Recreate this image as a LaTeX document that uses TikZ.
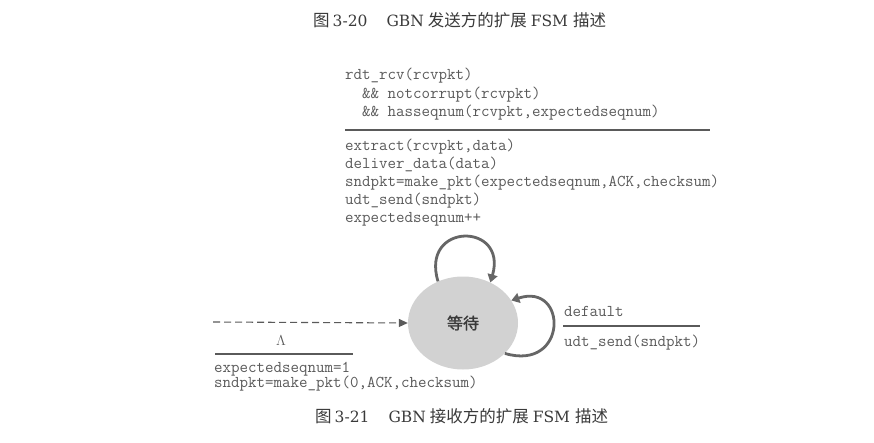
\documentclass[tikz,border=0pt]{standalone}
\usepackage{fontspec}
\setmainfont{Liberation Serif}
\newfontfamily\titleserif{DejaVu Serif}
\newfontfamily\cjk{Noto Sans CJK SC}
\newfontfamily\cjkbold{Noto Sans CJK SC}[FakeBold=1.5]
\usetikzlibrary{shapes.geometric,arrows.meta}
\definecolor{txtgray}{HTML}{5A5A5A}
\definecolor{titlegray}{HTML}{3A3A3A}
\definecolor{statefill}{HTML}{D2D2D2}
\definecolor{loopgray}{HTML}{666666}
\tikzset{
  mono/.style={anchor=base west, inner sep=0pt, text=txtgray, font=\ttfamily\fontsize{16.5}{18}\selectfont},
  ruleline/.style={draw=txtgray, line width=1.1pt},
  looparrow/.style={draw=loopgray, line width=2.8pt, -{Triangle[length=8pt,width=10pt]}},
  initarrow/.style={draw=txtgray, line width=1.1pt, dash pattern=on 7pt off 4pt, -{Triangle[length=9pt,width=8pt]}},
  title/.style={anchor=base west, inner sep=0pt, text=titlegray, font=\fontsize{16.5}{18}\selectfont},
  statenode/.style={ellipse, fill=statefill, minimum width=110pt, minimum height=93pt, inner sep=0pt, text=titlegray, font=\cjkbold\fontsize{16}{18}\selectfont}
}
\begin{document}
\begin{tikzpicture}[x=1pt,y=-1pt]
\useasboundingbox[fill=white] (0,0) rectangle (874,443);
% titles
\node[title] (t1) at (313,27) {{\cjk 图}\hspace{3pt}{\titleserif\fontsize{15.5}{18}\selectfont 3-20}\hspace{19pt}{\titleserif\fontsize{15.5}{18}\selectfont GBN}\hspace{4pt}{\cjk 发送方的扩展}\hspace{4pt}{\titleserif\fontsize{15.5}{18}\selectfont FSM}\hspace{5pt}{\cjk 描述}};
\node[title] (t2) at (315,422) {{\cjk 图}\hspace{3pt}{\titleserif\fontsize{15.5}{18}\selectfont 3-21}\hspace{19pt}{\titleserif\fontsize{15.5}{18}\selectfont GBN}\hspace{4pt}{\cjk 接收方的扩展}\hspace{4pt}{\titleserif\fontsize{15.5}{18}\selectfont FSM}\hspace{5pt}{\cjk 描述}};
% state
\node[statenode] (s) at (463,323) {等待};
% top loop labels
\node[mono] (a1) at (345,80) {rdt\_rcv(rcvpkt)};
\node[mono] (a2) at (362,99) {\&\& notcorrupt(rcvpkt)};
\node[mono] (a3) at (362,117) {\&\& hasseqnum(rcvpkt,expectedseqnum)};
\coordinate (r1a) at (345,130);
\coordinate (r1b) at (710,130);
\draw[ruleline] (r1a) -- (r1b);
\node[mono] (b1) at (345,151) {extract(rcvpkt,data)};
\node[mono] (b2) at (345,169) {deliver\_data(data)};
\node[mono] (b3) at (345,187) {sndpkt=make\_pkt(expectedseqnum,ACK,checksum)};
\node[mono] (b4) at (345,205) {udt\_send(sndpkt)};
\node[mono] (b5) at (345,223) {expectedseqnum++};
% top self loop
\draw[looparrow] (s.121) .. controls (420,222) and (508,222) .. (s.56);
% right self loop
\draw[looparrow] (s.-36) .. controls (568,372) and (568,282) .. (s.25);
\node[mono] (c1) at (564,316) {default};
\coordinate (r2a) at (563,326);
\coordinate (r2b) at (700,326);
\draw[ruleline] (r2a) -- (r2b);
\node[mono] (c2) at (564,346) {udt\_send(sndpkt)};
% initial arrow
\coordinate (init) at (213,322);
\draw[initarrow] (init) -- (s.west);
\node[inner sep=0pt, text=txtgray, font=\fontsize{15}{16}\selectfont] (lam) at (281,341) {$\Lambda$};
\coordinate (r3a) at (215,354);
\coordinate (r3b) at (353,354);
\draw[ruleline] (r3a) -- (r3b);
\node[mono] (d1) at (214,372) {expectedseqnum=1};
\node[mono] (d2) at (214,387) {sndpkt=make\_pkt(0,ACK,checksum)};
\end{tikzpicture}
\end{document}
